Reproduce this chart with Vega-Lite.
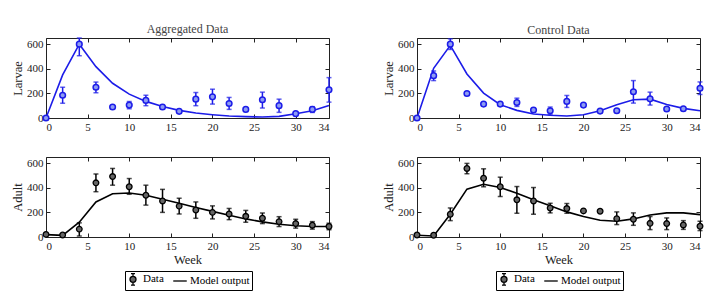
{
  "$schema": "https://vega.github.io/schema/vega-lite/v6.json",
  "padding": {"left": 11, "top": 22, "right": 5, "bottom": 5},
  "background": "white",
  "config": {
    "view": {"stroke": "#222", "strokeWidth": 1},
    "font": "Liberation Serif",
    "axis": {"grid": false, "domain": false, "ticks": true, "tickSize": 4, "offset": -4, "zindex": 1, "tickColor": "#222", "tickWidth": 1, "labelFont": "Liberation Serif", "labelFontSize": 11, "labelColor": "#222", "labelPadding": 3, "titleFont": "Liberation Serif", "titleFontSize": 12.5, "titleFontWeight": "normal", "titleColor": "#222", "titlePadding": 2},
    "title": {"font": "Liberation Serif", "fontSize": 12, "fontWeight": "normal", "color": "#444", "offset": 1},
    "legend": {"labelFont": "Liberation Serif", "labelFontSize": 11, "labelColor": "#000"}
  },
  "datasets": {
    "aggL": [
      {"week": 0, "m": 0, "lo": 0, "hi": 0},
      {"week": 2, "m": 185, "lo": 120, "hi": 250},
      {"week": 4, "m": 600, "lo": 506, "hi": 650},
      {"week": 6, "m": 250, "lo": 205, "hi": 292},
      {"week": 8, "m": 89, "lo": 80, "hi": 98},
      {"week": 10, "m": 105, "lo": 75, "hi": 134},
      {"week": 12, "m": 143, "lo": 100, "hi": 185},
      {"week": 14, "m": 89, "lo": 74, "hi": 104},
      {"week": 16, "m": 54, "lo": 46, "hi": 62},
      {"week": 18, "m": 153, "lo": 100, "hi": 207},
      {"week": 20, "m": 172, "lo": 113, "hi": 234},
      {"week": 22, "m": 118, "lo": 70, "hi": 167},
      {"week": 24, "m": 70, "lo": 60, "hi": 80},
      {"week": 26, "m": 148, "lo": 81, "hi": 210},
      {"week": 28, "m": 100, "lo": 46, "hi": 153},
      {"week": 30, "m": 35, "lo": 25, "hi": 45},
      {"week": 32, "m": 70, "lo": 45, "hi": 92},
      {"week": 34, "m": 229, "lo": 129, "hi": 328}
    ],
    "aggLm": [
      {"week": 0, "model": 0}, {"week": 2, "model": 350}, {"week": 4, "model": 600}, {"week": 6, "model": 417},
      {"week": 8, "model": 282}, {"week": 10, "model": 194}, {"week": 12, "model": 135}, {"week": 14, "model": 94},
      {"week": 16, "model": 62}, {"week": 18, "model": 40}, {"week": 20, "model": 27}, {"week": 22, "model": 16},
      {"week": 24, "model": 11}, {"week": 26, "model": 8}, {"week": 28, "model": 13}, {"week": 30, "model": 35},
      {"week": 32, "model": 59}, {"week": 34, "model": 102}
    ],
    "conL": [
      {"week": 0, "m": 0, "lo": 0, "hi": 0},
      {"week": 2, "m": 344, "lo": 304, "hi": 382},
      {"week": 4, "m": 600, "lo": 557, "hi": 643},
      {"week": 6, "m": 199, "lo": 189, "hi": 209},
      {"week": 8, "m": 113, "lo": 105, "hi": 121},
      {"week": 10, "m": 113, "lo": 101, "hi": 125},
      {"week": 12, "m": 126, "lo": 94, "hi": 161},
      {"week": 14, "m": 65, "lo": 50, "hi": 80},
      {"week": 16, "m": 59, "lo": 27, "hi": 89},
      {"week": 18, "m": 135, "lo": 86, "hi": 183},
      {"week": 20, "m": 105, "lo": 97, "hi": 113},
      {"week": 22, "m": 56, "lo": 46, "hi": 66},
      {"week": 24, "m": 59, "lo": 49, "hi": 69},
      {"week": 26, "m": 213, "lo": 121, "hi": 304},
      {"week": 28, "m": 156, "lo": 105, "hi": 210},
      {"week": 30, "m": 73, "lo": 63, "hi": 83},
      {"week": 32, "m": 75, "lo": 67, "hi": 83},
      {"week": 34, "m": 242, "lo": 191, "hi": 293}
    ],
    "conLm": [
      {"week": 0, "model": 0}, {"week": 2, "model": 404}, {"week": 4, "model": 590}, {"week": 6, "model": 358},
      {"week": 8, "model": 202}, {"week": 10, "model": 108}, {"week": 12, "model": 62}, {"week": 14, "model": 32},
      {"week": 16, "model": 22}, {"week": 18, "model": 16}, {"week": 20, "model": 27}, {"week": 22, "model": 59},
      {"week": 24, "model": 108}, {"week": 26, "model": 148}, {"week": 28, "model": 153}, {"week": 30, "model": 110},
      {"week": 32, "model": 78}, {"week": 34, "model": 59}
    ],
    "aggA": [
      {"week": 0, "m": 21, "lo": 16, "hi": 26},
      {"week": 2, "m": 16, "lo": 11, "hi": 21},
      {"week": 4, "m": 64, "lo": 8, "hi": 115},
      {"week": 6, "m": 440, "lo": 368, "hi": 512},
      {"week": 8, "m": 491, "lo": 421, "hi": 557},
      {"week": 10, "m": 408, "lo": 347, "hi": 475},
      {"week": 12, "m": 339, "lo": 259, "hi": 421},
      {"week": 14, "m": 293, "lo": 200, "hi": 387},
      {"week": 16, "m": 251, "lo": 187, "hi": 315},
      {"week": 18, "m": 219, "lo": 152, "hi": 285},
      {"week": 20, "m": 200, "lo": 147, "hi": 253},
      {"week": 22, "m": 187, "lo": 141, "hi": 232},
      {"week": 24, "m": 168, "lo": 120, "hi": 216},
      {"week": 26, "m": 152, "lo": 109, "hi": 195},
      {"week": 28, "m": 125, "lo": 85, "hi": 165},
      {"week": 30, "m": 109, "lo": 72, "hi": 144},
      {"week": 32, "m": 96, "lo": 64, "hi": 125},
      {"week": 34, "m": 85, "lo": 59, "hi": 112}
    ],
    "aggAm": [
      {"week": 0, "model": 19}, {"week": 2, "model": 13}, {"week": 4, "model": 120}, {"week": 6, "model": 285},
      {"week": 8, "model": 352}, {"week": 10, "model": 357}, {"week": 12, "model": 339}, {"week": 14, "model": 307},
      {"week": 16, "model": 275}, {"week": 18, "model": 240}, {"week": 20, "model": 208}, {"week": 22, "model": 176},
      {"week": 24, "model": 147}, {"week": 26, "model": 123}, {"week": 28, "model": 104}, {"week": 30, "model": 91},
      {"week": 32, "model": 85}, {"week": 34, "model": 85}
    ],
    "conA": [
      {"week": 0, "m": 16, "lo": 11, "hi": 21},
      {"week": 2, "m": 14, "lo": 9, "hi": 19},
      {"week": 4, "m": 185, "lo": 133, "hi": 236},
      {"week": 6, "m": 557, "lo": 514, "hi": 598},
      {"week": 8, "m": 478, "lo": 408, "hi": 554},
      {"week": 10, "m": 408, "lo": 329, "hi": 486},
      {"week": 12, "m": 302, "lo": 193, "hi": 410},
      {"week": 14, "m": 293, "lo": 185, "hi": 402},
      {"week": 16, "m": 236, "lo": 196, "hi": 274},
      {"week": 18, "m": 231, "lo": 193, "hi": 272},
      {"week": 20, "m": 212, "lo": 204, "hi": 220},
      {"week": 22, "m": 209, "lo": 201, "hi": 217},
      {"week": 24, "m": 149, "lo": 101, "hi": 204},
      {"week": 26, "m": 144, "lo": 95, "hi": 196},
      {"week": 28, "m": 111, "lo": 60, "hi": 166},
      {"week": 30, "m": 109, "lo": 60, "hi": 155},
      {"week": 32, "m": 98, "lo": 62, "hi": 133},
      {"week": 34, "m": 87, "lo": 52, "hi": 128}
    ],
    "conAm": [
      {"week": 0, "model": 14}, {"week": 2, "model": 8}, {"week": 4, "model": 185}, {"week": 6, "model": 389},
      {"week": 8, "model": 429}, {"week": 10, "model": 402}, {"week": 12, "model": 356}, {"week": 14, "model": 302},
      {"week": 16, "model": 253}, {"week": 18, "model": 204}, {"week": 20, "model": 166}, {"week": 22, "model": 136},
      {"week": 24, "model": 128}, {"week": 26, "model": 147}, {"week": 28, "model": 179}, {"week": 30, "model": 196},
      {"week": 32, "model": 196}, {"week": 34, "model": 182}
    ],
    "legendKeys": [
      {"series": "Data"},
      {"series": "Model output"}
    ]
  },
  "columns": 2,
  "spacing": {"row": 23, "column": 46},
  "resolve": {"scale": {"shape": "independent", "fill": "independent", "stroke": "independent"}, "legend": {"shape": "independent", "fill": "independent", "stroke": "independent"}},
  "concat": [
    {
      "width": 283, "height": 80,
      "title": "Aggregated Data",
      "layer": [
        {"data": {"name": "aggLm"}, "mark": {"type": "line", "color": "#1c1ce8", "strokeWidth": 1.6},
         "encoding": {
           "x": {"field": "week", "type": "quantitative", "scale": {"domain": [0, 34], "nice": false}, "axis": {"orient": "bottom", "title": null, "ticks": true, "values": [0, 5, 10, 15, 20, 25, 30, 34]}},
           "y": {"field": "model", "type": "quantitative", "scale": {"domain": [0, 650], "nice": false}, "axis": {"orient": "left", "title": "Larvae", "ticks": true, "values": [0, 200, 400, 600]}}}},
        {"data": {"name": "aggL"}, "mark": {"type": "errorbar", "color": "#1c1ce8", "ticks": {"size": 5, "thickness": 1.5}, "rule": {"strokeWidth": 1.5}},
         "encoding": {
           "x": {"field": "week", "type": "quantitative", "axis": null},
           "y": {"field": "lo", "type": "quantitative", "axis": null},
           "y2": {"field": "hi"}}},
        {"data": {"name": "aggL"}, "mark": {"type": "point", "filled": true, "fill": "#8e9cf2", "stroke": "#1c1ce8", "strokeWidth": 1.5, "size": 32, "opacity": 1},
         "encoding": {
           "x": {"field": "week", "type": "quantitative", "axis": null},
           "y": {"field": "m", "type": "quantitative", "axis": null}}},
        {"data": {"name": "aggLm"}, "mark": {"type": "point", "opacity": 0},
         "encoding": {
           "x": {"field": "week", "type": "quantitative", "axis": {"orient": "top", "labels": false, "title": null, "values": [0, 5, 10, 15, 20, 25, 30, 34]}},
           "y": {"field": "model", "type": "quantitative", "axis": {"orient": "right", "labels": false, "title": null, "values": [0, 200, 400, 600]}}}}
      ]
    },
    {
      "width": 283, "height": 80,
      "title": "Control Data",
      "layer": [
        {"data": {"name": "conLm"}, "mark": {"type": "line", "color": "#1c1ce8", "strokeWidth": 1.6},
         "encoding": {
           "x": {"field": "week", "type": "quantitative", "scale": {"domain": [0, 34], "nice": false}, "axis": {"orient": "bottom", "title": null, "ticks": true, "values": [0, 5, 10, 15, 20, 25, 30, 34]}},
           "y": {"field": "model", "type": "quantitative", "scale": {"domain": [0, 650], "nice": false}, "axis": {"orient": "left", "title": "Larvae", "ticks": true, "values": [0, 200, 400, 600]}}}},
        {"data": {"name": "conL"}, "mark": {"type": "errorbar", "color": "#1c1ce8", "ticks": {"size": 5, "thickness": 1.5}, "rule": {"strokeWidth": 1.5}},
         "encoding": {
           "x": {"field": "week", "type": "quantitative", "axis": null},
           "y": {"field": "lo", "type": "quantitative", "axis": null},
           "y2": {"field": "hi"}}},
        {"data": {"name": "conL"}, "mark": {"type": "point", "filled": true, "fill": "#8e9cf2", "stroke": "#1c1ce8", "strokeWidth": 1.5, "size": 32, "opacity": 1},
         "encoding": {
           "x": {"field": "week", "type": "quantitative", "axis": null},
           "y": {"field": "m", "type": "quantitative", "axis": null}}},
        {"data": {"name": "conLm"}, "mark": {"type": "point", "opacity": 0},
         "encoding": {
           "x": {"field": "week", "type": "quantitative", "axis": {"orient": "top", "labels": false, "title": null, "values": [0, 5, 10, 15, 20, 25, 30, 34]}},
           "y": {"field": "model", "type": "quantitative", "axis": {"orient": "right", "labels": false, "title": null, "values": [0, 200, 400, 600]}}}}
      ]
    },
    {
      "width": 283, "height": 80,
      "layer": [
        {"data": {"name": "aggAm"}, "mark": {"type": "line", "color": "#000", "strokeWidth": 1.6},
         "encoding": {
           "x": {"field": "week", "type": "quantitative", "scale": {"domain": [0, 34], "nice": false}, "axis": {"orient": "bottom", "title": "Week", "ticks": true, "values": [0, 5, 10, 15, 20, 25, 30, 34]}},
           "y": {"field": "model", "type": "quantitative", "scale": {"domain": [0, 650], "nice": false}, "axis": {"orient": "left", "title": "Adult", "ticks": true, "values": [0, 200, 400, 600]}}}},
        {"data": {"name": "aggA"}, "mark": {"type": "errorbar", "color": "#000", "ticks": {"size": 5, "thickness": 1.5}, "rule": {"strokeWidth": 1.5}},
         "encoding": {
           "x": {"field": "week", "type": "quantitative", "axis": null},
           "y": {"field": "lo", "type": "quantitative", "axis": null},
           "y2": {"field": "hi"}}},
        {"data": {"name": "aggA"}, "mark": {"type": "point", "filled": true, "fill": "#666666", "stroke": "#000", "strokeWidth": 1.3, "size": 32, "opacity": 1},
         "encoding": {
           "x": {"field": "week", "type": "quantitative", "axis": null},
           "y": {"field": "m", "type": "quantitative", "axis": null}}},
        {"data": {"name": "aggAm"}, "mark": {"type": "point", "opacity": 0},
         "encoding": {
           "x": {"field": "week", "type": "quantitative", "axis": {"orient": "top", "labels": false, "title": null, "values": [0, 5, 10, 15, 20, 25, 30, 34]}},
           "y": {"field": "model", "type": "quantitative", "axis": {"orient": "right", "labels": false, "title": null, "values": [0, 200, 400, 600]}}}},
        {"data": {"name": "legendKeys"}, "mark": {"type": "point", "opacity": 0},
         "encoding": {
           "shape": {"field": "series", "type": "nominal",
             "scale": {"domain": ["Data", "Model output"], "range": ["M-0.6,0A0.6,0.6 0 1,1 0.6,0A0.6,0.6 0 1,1 -0.6,0Z M0,-1.15L0,-0.6M0,0.6L0,1.15M-0.4,-1.15L0.4,-1.15M-0.4,1.15L0.4,1.15", "M-1.35,0L1.35,0"]},
             "legend": {"title": null, "orient": "none", "legendX": 79, "legendY": 114, "direction": "horizontal", "strokeColor": "#000", "fillColor": "#fff", "padding": 2, "symbolSize": 100, "symbolOpacity": 1, "symbolStrokeWidth": 1.3, "labelFont": "Liberation Serif", "labelFontSize": 11, "labelColor": "#000", "labelOffset": 4, "columnPadding": 6}},
           "fill": {"field": "series", "type": "nominal", "scale": {"domain": ["Data", "Model output"], "range": ["#666666", "transparent"]}, "legend": {"title": null, "orient": "none", "legendX": 79, "legendY": 114, "direction": "horizontal"}},
           "stroke": {"field": "series", "type": "nominal", "scale": {"domain": ["Data", "Model output"], "range": ["#000000", "#000000"]}, "legend": {"title": null, "orient": "none", "legendX": 79, "legendY": 114, "direction": "horizontal"}}}}
      ]
    },
    {
      "width": 283, "height": 80,
      "layer": [
        {"data": {"name": "conAm"}, "mark": {"type": "line", "color": "#000", "strokeWidth": 1.6},
         "encoding": {
           "x": {"field": "week", "type": "quantitative", "scale": {"domain": [0, 34], "nice": false}, "axis": {"orient": "bottom", "title": "Week", "ticks": true, "values": [0, 5, 10, 15, 20, 25, 30, 34]}},
           "y": {"field": "model", "type": "quantitative", "scale": {"domain": [0, 650], "nice": false}, "axis": {"orient": "left", "title": "Adult", "ticks": true, "values": [0, 200, 400, 600]}}}},
        {"data": {"name": "conA"}, "mark": {"type": "errorbar", "color": "#000", "ticks": {"size": 5, "thickness": 1.5}, "rule": {"strokeWidth": 1.5}},
         "encoding": {
           "x": {"field": "week", "type": "quantitative", "axis": null},
           "y": {"field": "lo", "type": "quantitative", "axis": null},
           "y2": {"field": "hi"}}},
        {"data": {"name": "conA"}, "mark": {"type": "point", "filled": true, "fill": "#666666", "stroke": "#000", "strokeWidth": 1.3, "size": 32, "opacity": 1},
         "encoding": {
           "x": {"field": "week", "type": "quantitative", "axis": null},
           "y": {"field": "m", "type": "quantitative", "axis": null}}},
        {"data": {"name": "conAm"}, "mark": {"type": "point", "opacity": 0},
         "encoding": {
           "x": {"field": "week", "type": "quantitative", "axis": {"orient": "top", "labels": false, "title": null, "values": [0, 5, 10, 15, 20, 25, 30, 34]}},
           "y": {"field": "model", "type": "quantitative", "axis": {"orient": "right", "labels": false, "title": null, "values": [0, 200, 400, 600]}}}},
        {"data": {"name": "legendKeys"}, "mark": {"type": "point", "opacity": 0},
         "encoding": {
           "shape": {"field": "series", "type": "nominal",
             "scale": {"domain": ["Data", "Model output"], "range": ["M-0.6,0A0.6,0.6 0 1,1 0.6,0A0.6,0.6 0 1,1 -0.6,0Z M0,-1.15L0,-0.6M0,0.6L0,1.15M-0.4,-1.15L0.4,-1.15M-0.4,1.15L0.4,1.15", "M-1.35,0L1.35,0"]},
             "legend": {"title": null, "orient": "none", "legendX": 79, "legendY": 114, "direction": "horizontal", "strokeColor": "#000", "fillColor": "#fff", "padding": 2, "symbolSize": 100, "symbolOpacity": 1, "symbolStrokeWidth": 1.3, "labelFont": "Liberation Serif", "labelFontSize": 11, "labelColor": "#000", "labelOffset": 4, "columnPadding": 6}},
           "fill": {"field": "series", "type": "nominal", "scale": {"domain": ["Data", "Model output"], "range": ["#666666", "transparent"]}, "legend": {"title": null, "orient": "none", "legendX": 79, "legendY": 114, "direction": "horizontal"}},
           "stroke": {"field": "series", "type": "nominal", "scale": {"domain": ["Data", "Model output"], "range": ["#000000", "#000000"]}, "legend": {"title": null, "orient": "none", "legendX": 79, "legendY": 114, "direction": "horizontal"}}}}
      ]
    }
  ]
}
